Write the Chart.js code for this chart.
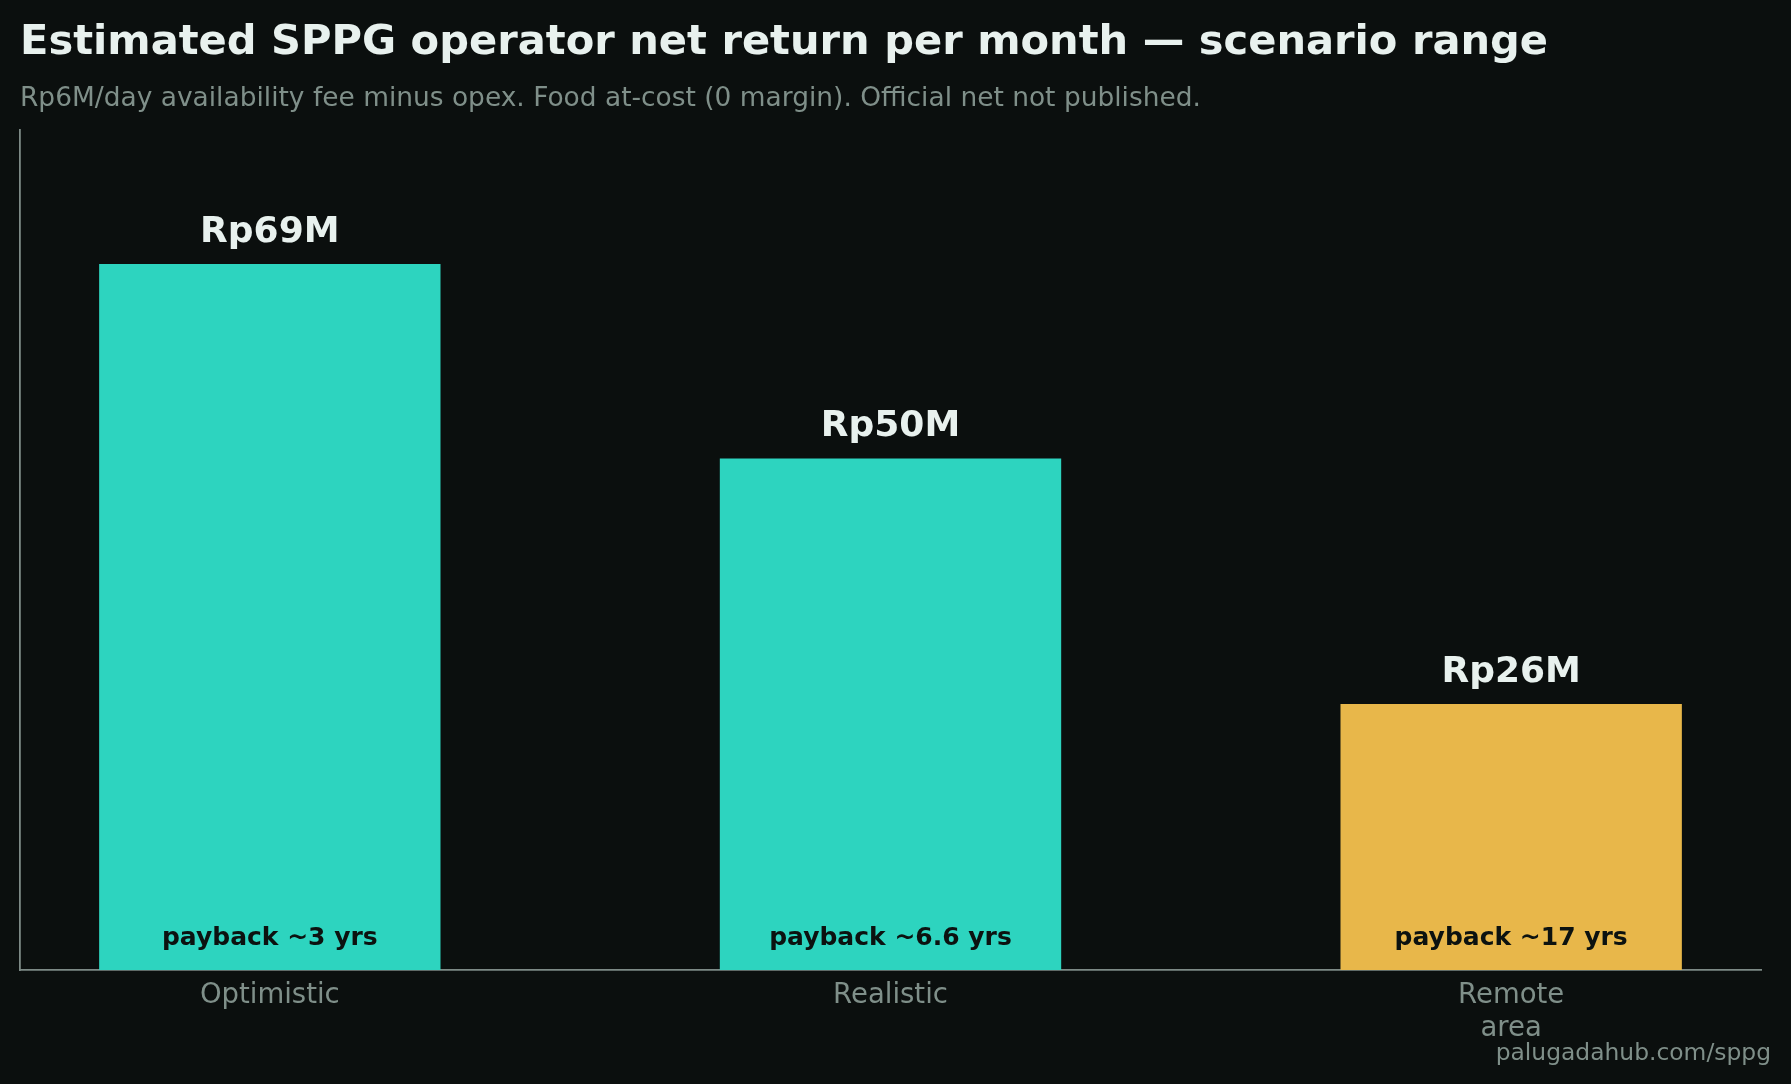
<!DOCTYPE html>
<html>
<head>
<meta charset="utf-8">
<script src="https://cdn.jsdelivr.net/npm/chart.js@4.4.1/dist/chart.umd.min.js"></script>
<style>
  html, body { margin: 0; padding: 0; background: #0b0f0e; }
  canvas { display: block; }
</style>
</head>
<body>
<canvas id="c" width="1791" height="1084"></canvas>
<script>
const titleText = "Estimated SPPG operator net return per month \u2014 scenario range";
const subtitleText = "Rp6M/day availability fee minus opex. Food at-cost (0 margin). Official net not published.";
const footerText = "palugadahub.com/sppg";
const categories = [["Optimistic"], ["Realistic"], ["Remote", "area"]];
const values = [69, 50, 26];
const valueLabels = ["Rp69M", "Rp50M", "Rp26M"];
const paybackLabels = ["payback ~3 yrs", "payback ~6.6 yrs", "payback ~17 yrs"];
const barColors = ["#2dd4bf", "#2dd4bf", "#e8b74a"];
const positions = [0, 1, 2];

const BG = "#0b0f0e";
const FG = "#e8f1ee";
const MUTED = "#7f8f89";
const FONT = "'DejaVu Sans', sans-serif";

const textPlugin = {
  id: "texts",
  beforeDraw(chart) {
    const ctx = chart.ctx;
    ctx.save();
    ctx.fillStyle = BG;
    ctx.fillRect(0, 0, chart.width, chart.height);
    ctx.restore();
  },
  afterDraw(chart) {
    const ctx = chart.ctx;
    ctx.save();
    ctx.textBaseline = "alphabetic";
    ctx.textAlign = "left";
    ctx.fillStyle = FG;
    ctx.font = "bold 41.6px " + FONT;
    ctx.fillText(titleText, 20, 54);
    ctx.fillStyle = MUTED;
    ctx.font = "26.45px " + FONT;
    ctx.fillText(subtitleText, 20, 106);
    ctx.textAlign = "right";
    ctx.font = "23.4px " + FONT;
    ctx.fillText(footerText, 1771, 1060);

    const meta = chart.getDatasetMeta(0);
    const yBase = chart.scales.y.getPixelForValue(0);
    ctx.textAlign = "center";
    meta.data.forEach((bar, i) => {
      ctx.fillStyle = FG;
      ctx.font = "bold 36px " + FONT;
      ctx.fillText(valueLabels[i], bar.x, bar.y - 22);
      ctx.fillStyle = "#0c1210";
      ctx.font = "bold 25px " + FONT;
      ctx.fillText(paybackLabels[i], bar.x, yBase - 25);
    });
    ctx.restore();
  }
};

new Chart(document.getElementById("c"), {
  type: "bar",
  data: {
    datasets: [{
      data: positions.map((p, i) => ({ x: p, y: values[i] })),
      backgroundColor: barColors,
      borderWidth: 0,
      categoryPercentage: 1,
      barPercentage: 0.55
    }]
  },
  options: {
    responsive: false,
    animation: false,
    devicePixelRatio: 1,
    layout: { padding: { left: 20, right: 30, top: 130, bottom: 30 } },
    plugins: { legend: { display: false }, tooltip: { enabled: false }, title: { display: false } },
    scales: {
      x: {
        type: "linear",
        min: -0.4025,
        max: 2.4025,
        offset: false,
        afterBuildTicks: (axis) => { axis.ticks = positions.map(v => ({ value: v })); },
        ticks: {
          color: MUTED,
          font: { family: FONT, size: 27.5, lineHeight: 1.2 },
          padding: 9,
          autoSkip: false,
          maxRotation: 0,
          callback: (v) => { const i = positions.indexOf(v); return i >= 0 ? categories[i] : ""; }
        },
        grid: { display: false, drawTicks: false },
        border: { display: true, color: "#7d8a86", width: 1.8 }
      },
      y: {
        min: 0,
        max: 82.1,
        ticks: { display: false },
        grid: { display: false, drawTicks: false },
        border: { display: true, color: "#7d8a86", width: 1.8 }
      }
    }
  },
  plugins: [textPlugin]
});
</script>
</body>
</html>
